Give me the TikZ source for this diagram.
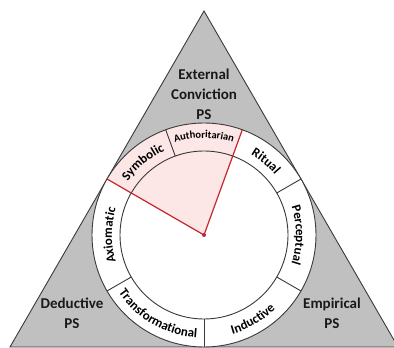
\documentclass[tikz,border=0pt]{standalone}
\usepackage{fontspec}
\setmainfont{Carlito}
\usepackage{xcolor}
\usetikzlibrary{decorations.text}
\definecolor{psgray}{HTML}{C0C0C0}
\definecolor{psline}{HTML}{3A3A3A}
\definecolor{psred}{HTML}{C4262E}
\definecolor{pspink}{HTML}{FCE6E6}
\newcommand{\ringfont}{\bfseries\fontsize{13}{15}\selectfont}
\newcommand{\smallringfont}{\bfseries\fontsize{10.5}{13}\selectfont}

\begin{document}
\begin{tikzpicture}[x=1pt,y=1pt,
  edge/.style={draw=psline,line width=0.9pt},
  redline/.style={draw=psred,line width=1.2pt},
  big/.style={align=center,text=black!90,font=\bfseries\fontsize{15}{20}\selectfont},
  ringtext/.style={decorate,decoration={text along path,text align=center,text={#1}}}]
  \useasboundingbox (0,0) rectangle (394,348);
  \clip (0,0) rectangle (394,348);
  \begin{scope}[shift={(204,113)}]
  % triangle and wheel
  \coordinate (c) at (0,0);
  \path[edge,fill=psgray] (90:224) coordinate (apex) -- (210:224) coordinate (left)
    -- (330:224) coordinate (right) -- cycle;
  \fill[white] (c) circle[radius=112];
  \fill[pspink] (c) -- (70:112) arc[start angle=70,end angle=150,radius=112] -- cycle;
  \draw[edge] (c) circle[radius=112];
  \draw[edge] (c) circle[radius=84];
  \foreach \a in {110,30,-30,-90,210}
    \draw[edge] (\a:84) -- (\a:112);
  \draw[redline] (150:112) -- (c) -- (70:112);
  \fill[psred] (c) circle[radius=2];
  % ring labels
  \path[ringtext={|\ringfont|Symbolic}] (150:93) arc[start angle=150,end angle=110,radius=93];
  \path[ringtext={|\smallringfont|Authoritarian}] (110:97) arc[start angle=110,end angle=70,radius=97];
  \path[ringtext={|\ringfont|Ritual}] (70:93) arc[start angle=70,end angle=30,radius=93];
  \path[ringtext={|\ringfont|Perceptual}] (30:92) arc[start angle=30,end angle=-30,radius=92];
  \path[ringtext={|\ringfont|Inductive}] (270:103) arc[start angle=270,end angle=330,radius=103];
  \path[ringtext={|\ringfont|Transformational}] (210:103) arc[start angle=210,end angle=270,radius=103];
  \path[ringtext={|\ringfont|Axiomatic}] (210:92) arc[start angle=210,end angle=150,radius=92];
  % corner labels
  \node[big] (ext) at (0,141) {External\\Conviction\\PS};
  \node[big] (ded) at (-132,-78) {Deductive\\PS};
  \node[big] (emp) at (128,-78) {Empirical\\PS};
  \end{scope}
\end{tikzpicture}
\end{document}
